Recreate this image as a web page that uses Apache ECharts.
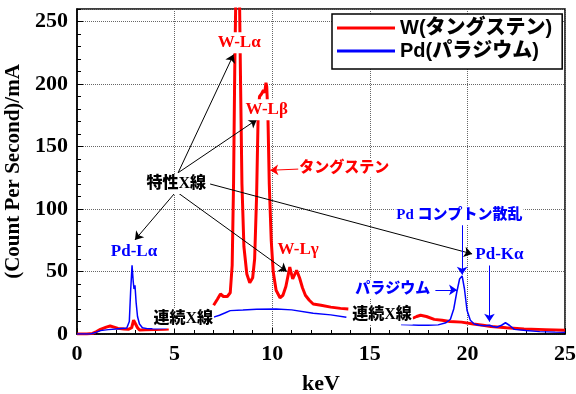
<!DOCTYPE html>
<html><head><meta charset="utf-8">
<script src="https://cdn.jsdelivr.net/npm/echarts@6/dist/echarts.min.js"></script>
<style>html,body{margin:0;padding:0;background:#fff}#c{width:576px;height:394px}</style>
</head><body><div id="c"></div>
<script>
// ---- data ----
const wEnergy = [0, 0.5, 0.8, 1.0, 1.2, 1.5, 1.7, 1.9, 2.1, 2.4, 2.63, 2.8, 2.9, 2.95, 3.0, 3.1, 3.2, 3.5, 4.0, 4.5, 4.7, 5.8,
  7.0, 7.2, 7.35, 7.5, 7.7, 7.85, 7.95, 8.02, 8.08, 8.15, 8.25, 8.32, 8.38, 8.45, 8.55, 8.7, 8.85, 9.0, 9.1, 9.2, 9.28,
  9.35, 9.45, 9.55, 9.62, 9.68, 9.72, 9.78, 9.85, 9.95, 10.05, 10.2, 10.4, 10.55, 10.7, 10.9, 11.05, 11.25, 11.4, 11.55,
  11.7, 11.9, 12.1, 12.5, 13.0, 13.5, 13.9, 15.5, 17.2, 17.4, 17.6, 17.9, 18.3, 18.7, 19.1, 19.7, 20.3, 20.8, 21.2, 22.0,
  22.9, 24.0, 25.0];
const wCounts = [0, 0, 0.5, 2, 3.7, 5.5, 6.4, 5.5, 4.5, 4, 3.7, 5, 11, 12.6, 10, 5, 3.2, 3.3, 3.5, 3.8, 4, null,
  23, 28, 32, 30, 30, 33, 55, 120, 210, 285, 290, 275, 200, 120, 70, 48, 41, 45, 60, 110, 175,
  190, 192, 195, 193, 201, 198, 175, 120, 75, 50, 35, 29, 31, 38, 53.5, 44, 51, 45, 37,
  31, 27, 24, 23, 21.5, 20.5, 20, null, 12.6, 14, 15, 14, 11.7, 11, 10, 9.5, 8, 7, 6, 5,
  4, 3.5, 3];
const pdEnergy = [0, 0.7, 1.0, 1.2, 1.6, 2.0, 2.55, 2.68, 2.75, 2.82, 2.88, 2.92, 2.97, 3.03, 3.1, 3.2, 3.35, 3.6, 4.0, 4.6, 5.8,
  7.0, 7.3, 7.6, 7.85, 8.5, 9.2, 10.2, 11.0, 12.1, 13.0, 13.8, 15.2, 16.6, 17.0, 17.5, 18.0, 18.5, 18.9, 19.13, 19.3,
  19.45, 19.6, 19.73, 19.85, 19.98, 20.15, 20.35, 20.6, 20.9, 21.13, 21.3, 21.5, 21.75, 21.95, 22.15, 22.4, 23.0, 23.7,
  24.5, 25.0];
const pdCounts = [0, 0, 1.5, 2.7, 3.5, 4, 4.8, 10, 35, 55, 42, 36, 39, 25, 14, 8, 5, 4.3, 4.2, 4.5, null,
  13.5, 15, 17, 18.7, 19.2, 19.8, 20, 19.3, 16.6, 15.3, 13.4, null, 7.5, 7.3, 7, 7, 7.3, 9, 11.8, 20,
  33, 44, 46.5, 36, 19, 11, 8, 7, 6.5, 7, 6, 5.4, 7, 9, 7, 3.7, 2.8, 1.9,
  1.5, 1.3];
const seriesNames = ['W(タングステン)', 'Pd(パラジウム)'];
const xTickValues = [0, 5, 10, 15, 20, 25];
const yTickValues = [0, 50, 100, 150, 200, 250];

// ---- chart ----
const SERIF = "'Liberation Serif','Times New Roman','Noto Sans CJK JP',serif";
const SANS = "'Liberation Sans',Arial,'Noto Sans CJK JP',sans-serif";
const RED = '#ff0000', BLUE = '#0000ff';

const wData = wEnergy.map((e, i) => [e, wCounts[i]]);
const pdData = pdEnergy.map((e, i) => [e, pdCounts[i]]);

function lbl(text, x, y, color, size, weight) {
  return {coord: [x, y], label: {show: true, formatter: text, color: color, fontSize: size, fontWeight: weight || 'bold',
    fontFamily: SERIF, backgroundColor: '#fff', padding: [1, 1], position: 'inside', lineHeight: size + 2}};
}
function arrow(x1, y1, x2, y2, color) {
  return [{coord: [x1, y1], lineStyle: {color: color, width: 1, type: 'solid'}},
          {coord: [x2, y2], lineStyle: {color: color, width: 1, type: 'solid'}}];
}

const chart = echarts.init(document.getElementById('c'), null, {renderer: 'canvas'});
const option = {
  animation: false,
  grid: {left: 77, right: 11, top: 9, bottom: 60, show: true, borderColor: '#000', borderWidth: 1.5,
    containLabel: false, outerBoundsMode: 'none'},
  legend: {
    orient: 'vertical', left: 332, top: 14, padding: [4, 10, 8, 5], itemGap: 3,
    itemWidth: 58, itemHeight: 3, icon: 'rect', backgroundColor: '#fff',
    borderColor: '#000', borderWidth: 1.5,
    textStyle: {fontFamily: SANS, fontWeight: 900, fontSize: 20, color: '#000'},
    data: seriesNames
  },
  xAxis: {
    type: 'value', min: xTickValues[0], max: xTickValues[xTickValues.length - 1], interval: 5,
    axisLine: {lineStyle: {color: '#000', width: 1.5}},
    axisTick: {inside: true, length: 6, lineStyle: {color: '#000'}},
    minorTick: {show: true, splitNumber: 5, length: 4, lineStyle: {color: '#000'}},
    splitLine: {show: true, lineStyle: {type: 'dotted', color: '#666'}},
    axisLabel: {color: '#000', fontFamily: SERIF, fontWeight: 'bold', fontSize: 22, margin: 9},
    name: 'keV', nameLocation: 'middle', nameGap: 39,
    nameTextStyle: {color: '#000', fontFamily: SERIF, fontWeight: 'bold', fontSize: 22}
  },
  yAxis: [{
    type: 'value', min: 0, max: 260, interval: 50,
    axisLine: {lineStyle: {color: '#000', width: 1.5}},
    axisTick: {inside: true, length: 6, lineStyle: {color: '#000'}},
    splitLine: {show: true, lineStyle: {type: 'dotted', color: '#666'}},
    axisLabel: {color: '#000', fontFamily: SERIF, fontWeight: 'bold', fontSize: 22, margin: 9, showMaxLabel: false,
      formatter: v => (yTickValues.indexOf(v) >= 0 ? String(v) : '')},
    name: '(Count Per Second)/mA', nameLocation: 'middle', nameGap: 50,
    nameTextStyle: {color: '#000', fontFamily: SERIF, fontWeight: 'bold', fontSize: 21}
  }, {
    type: 'value', min: 0, max: 260, interval: 10, position: 'left',
    axisLine: {show: false}, splitLine: {show: false}, axisLabel: {show: false},
    axisTick: {inside: true, length: 4, lineStyle: {color: '#000'}}
  }],
  series: [{
    name: seriesNames[0], type: 'line', data: wData, yAxisIndex: 0, showSymbol: false, symbol: 'none',
    connectNulls: false, lineStyle: {color: RED, width: 3}, itemStyle: {color: RED}, z: 2
  }, {
    name: seriesNames[1], type: 'line', data: pdData, yAxisIndex: 0, showSymbol: false, symbol: 'none',
    connectNulls: false, lineStyle: {color: BLUE, width: 1.5}, itemStyle: {color: BLUE}, z: 3,
    markLine: {
      silent: true, symbol: ['none', 'arrow'], symbolSize: 8, label: {show: false},
      data: [
        arrow(5.18, 129, 8.02, 223.6, '#000'),
        arrow(5.18, 129, 9.21, 171.5, '#000'),
        arrow(5.08, 114, 2.97, 75.3, '#000'),
        arrow(5.08, 114, 10.75, 50, '#000'),
        arrow(6.82, 120, 20.24, 64.1, '#000'),
        arrow(11.44, 132, 9.9, 131, RED),
        arrow(18.36, 35.3, 19.47, 35.3, BLUE),
        arrow(19.73, 87, 19.73, 47.5, BLUE),
        arrow(21.13, 56.6, 21.13, 9.9, BLUE)
      ]
    },
    markPoint: {
      silent: true, symbol: 'rect', symbolSize: 1, itemStyle: {color: 'rgba(0,0,0,0)'},
      data: [
        lbl('W-Lα', 8.31, 233, RED, 17),
        lbl('W-Lβ', 9.72, 179.5, RED, 17),
        lbl('W-Lγ', 11.33, 67.3, RED, 17),
        lbl('Pd-Lα', 2.92, 66, BLUE, 17),
        lbl('特性X線', 5.08, 120, '#000', 16, 900),
        lbl('タングステン', 13.69, 133, RED, 15, 900),
        lbl('連続X線', 5.44, 12.5, '#000', 16, 900),
        lbl('連続X線', 15.62, 15.6, '#000', 16, 900),
        lbl('パラジウム', 16.18, 36, BLUE, 15, 900),
        lbl('Pd コンプトン散乱', 19.59, 95, BLUE, 15, 900),
        lbl('Pd-Kα', 21.64, 63.3, BLUE, 17)
      ]
    }
  }]
};
chart.setOption(option);
</script>
</body></html>
